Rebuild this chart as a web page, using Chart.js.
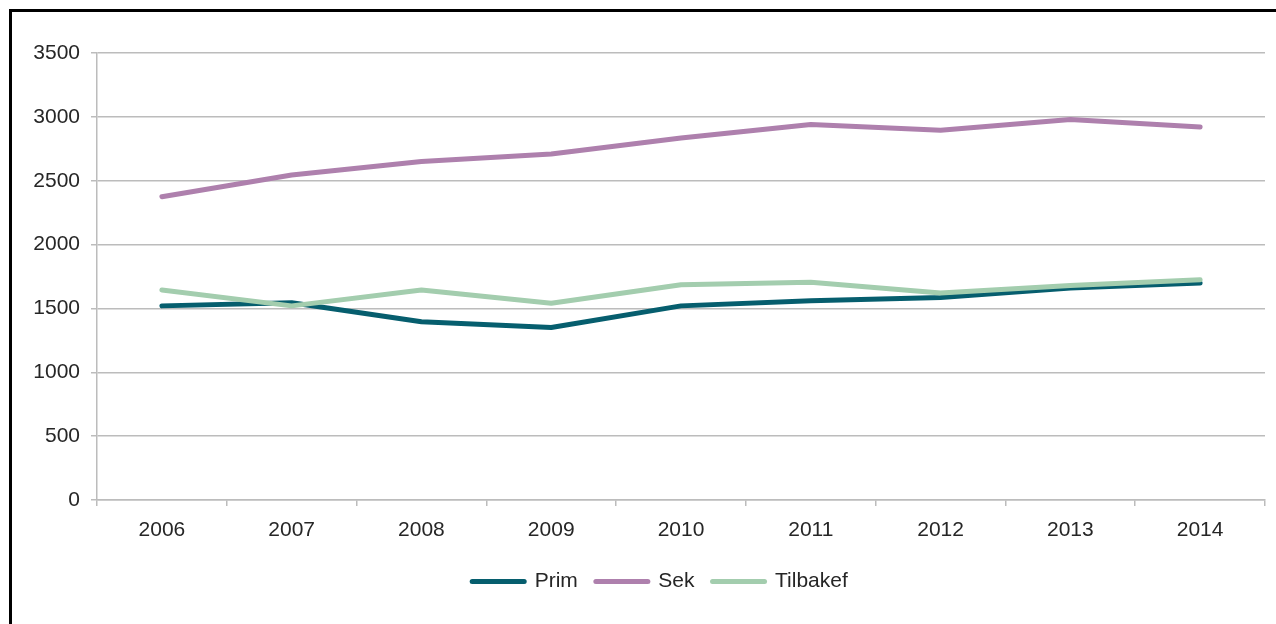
<!DOCTYPE html>
<html>
<head>
<meta charset="utf-8">
<script src="https://cdn.jsdelivr.net/npm/chart.js@4/dist/chart.umd.min.js"></script>
<style>
  html, body { margin: 0; padding: 0; background: #fff; }
  #wrap { position: relative; width: 1276px; height: 624px; overflow: hidden; }
  #frame { position: absolute; left: 9px; top: 9px; width: 1400px; height: 800px; border: 3px solid #000; box-sizing: border-box; pointer-events: none; }
  canvas { position: absolute; left: 0; top: 0; }
</style>
</head>
<body>
<div id="wrap">
  <canvas id="c" width="1276" height="624"></canvas>
  <div id="frame"></div>
</div>
<script>
const categories = ['2006', '2007', '2008', '2009', '2010', '2011', '2012', '2013', '2014'];
const prim = [1520, 1545, 1395, 1350, 1520, 1560, 1585, 1660, 1700];
const sek = [2375, 2545, 2650, 2710, 2835, 2940, 2895, 2980, 2920];
const tilbakef = [1645, 1520, 1645, 1540, 1685, 1705, 1620, 1680, 1725];
const seriesNames = ['Prim', 'Sek', 'Tilbakef'];
const seriesColors = ['#065e6e', '#ae80ad', '#a3cdae'];

const FONT = "'Liberation Sans', Arial, sans-serif";
const TEXT = '#262626';
const GRID = '#bcbcbc';

function ds(i, data, order) {
  return {
    label: seriesNames[i], data: data, borderColor: seriesColors[i], backgroundColor: seriesColors[i],
    borderWidth: 5, pointRadius: 0, pointHoverRadius: 0, tension: 0,
    borderCapStyle: 'round', borderJoinStyle: 'round', fill: false, order: order
  };
}

const legendShift = {
  id: 'legendShift',
  afterLayout(chart) {
    const lg = chart.legend;
    if (!lg) return;
    const dx = 660 - (lg.left + lg.right) / 2;
    lg.left += dx; lg.right += dx;
  }
};

new Chart(document.getElementById('c'), {
  type: 'line',
  data: {
    labels: categories,
    datasets: [ds(0, prim, 2), ds(1, sek, 1), ds(2, tilbakef, 0)]
  },
  plugins: [legendShift],
  options: {
    responsive: false,
    animation: false,
    events: [],
    layout: { padding: { left: 0, right: 11, top: 53, bottom: 22 } },
    plugins: {
      tooltip: { enabled: false },
      legend: {
        position: 'bottom',
        labels: {
          usePointStyle: true,
          pointStyleWidth: 52,
          boxHeight: 20,
          padding: 18,
          color: TEXT,
          font: { family: FONT, size: 21 },
          generateLabels: (chart) => chart.data.datasets.map((d, i) => ({
            text: d.label, fillStyle: d.borderColor, strokeStyle: d.borderColor,
            lineWidth: 5, lineCap: 'round', pointStyle: 'line', datasetIndex: i, hidden: false, fontColor: TEXT
          }))
        }
      }
    },
    scales: {
      x: {
        offset: true,
        afterFit: (s) => { s.height = 53; },
        grid: { offset: true, drawOnChartArea: false, drawTicks: true, tickLength: 6, color: GRID, lineWidth: 1.5 },
        border: { display: true, color: GRID, width: 1.5 },
        ticks: { color: TEXT, font: { family: FONT, size: 21 }, padding: 12, maxRotation: 0 }
      },
      y: {
        min: 0, max: 3500,
        afterFit: (s) => { s.width = 97; },
        ticks: { stepSize: 500, color: TEXT, font: { family: FONT, size: 21 }, padding: 11, callback: (v) => String(v) },
        grid: { color: GRID, lineWidth: 1.5, tickLength: 6 },
        border: { display: true, color: GRID, width: 1.5 }
      }
    }
  }
});
</script>
</body>
</html>
